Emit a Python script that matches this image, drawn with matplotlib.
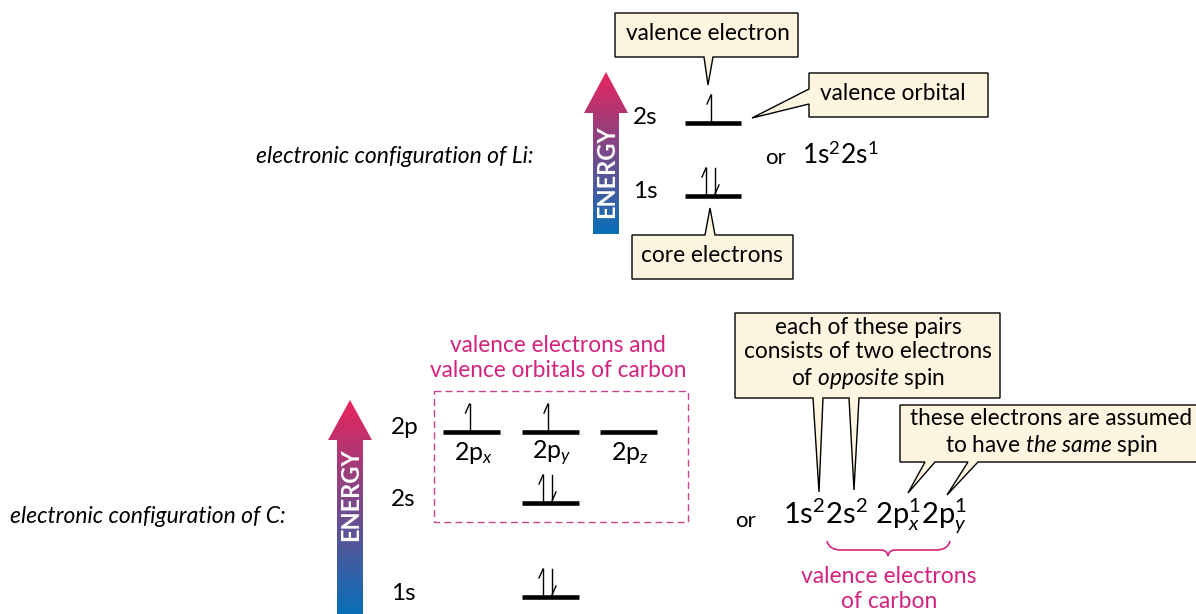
import numpy as np
import matplotlib.pyplot as plt
from matplotlib.patches import Polygon, PathPatch, Rectangle
from matplotlib.path import Path

plt.rcParams['font.family'] = ['Lato', 'DejaVu Sans']
plt.rcParams['mathtext.fontset'] = 'custom'
plt.rcParams['mathtext.rm'] = 'Lato'
plt.rcParams['mathtext.it'] = 'Lato:italic'
plt.rcParams['mathtext.bf'] = 'Lato:bold'

# data
li_orbitals = ['1s', '2s']
li_electrons = [2, 1]
li_config = r'1s$^2$2s$^1$'

c_levels = ['1s', '2s', '2p']
c_orbitals = ['1s', '2s', '2p$_x$', '2p$_y$', '2p$_z$']
c_electrons = [2, 2, 1, 1, 0]
c_config = r'1s$^2$2s$^2$ 2p$_x^1$2p$_y^1$'

MAGENTA = '#d3237f'
CREAM = '#fdf5e0'
NOTE = 16.3  # callout text size

fig = plt.figure(figsize=(11.96, 6.14), dpi=100)
ax = fig.add_axes([0, 0, 1, 1])
ax.set_xlim(0, 1196)
ax.set_ylim(614, 0)
ax.axis('off')


def energy_arrow(cx, tip, head_base, bottom, text_y, head_w=22, shaft_w=13, size=17):
    # gradient arrow, red on top, blue at the bottom
    pts = [(cx, tip), (cx + head_w, head_base), (cx + shaft_w, head_base),
           (cx + shaft_w, bottom), (cx - shaft_w, bottom), (cx - shaft_w, head_base),
           (cx - head_w, head_base)]
    poly = Polygon(pts, closed=True, facecolor='none', edgecolor='none')
    ax.add_patch(poly)
    top_c = np.array([232, 36, 92]) / 255
    bot_c = np.array([8, 112, 184]) / 255
    t = np.linspace(0, 1, 256)[:, None]
    grad = (top_c * (1 - t) + bot_c * t)[:, None, :]
    im = ax.imshow(grad, extent=(cx - head_w, cx + head_w, bottom, tip),
                   origin='upper', aspect='auto', interpolation='bilinear')
    im.set_clip_path(poly)
    ax.text(cx + 1, text_y, 'ENERGY', rotation=90, color='white', fontsize=size,
            fontweight='bold', ha='center', va='center')


def harpoon(x, y_base, up=True, length=26):
    top = y_base - length
    ax.plot([x, x], [y_base, top], color='black', lw=1.0)
    if up:
        ax.plot([x, x - 4], [top, top + 9], color='black', lw=1.0)
    else:
        ax.plot([x, x + 4], [y_base, y_base - 9], color='black', lw=1.0)


def orbital(cx, y, n, half=28):
    ax.plot([cx - half, cx + half], [y, y], color='black', lw=3.3, solid_capstyle='butt')
    if n == 1:
        harpoon(cx - 2, y - 2, up=True)
    elif n == 2:
        harpoon(cx - 7, y - 2, up=True)
        harpoon(cx + 2, y - 2, up=False)


def callout(x0, y0, x1, y1, pointers, side):
    # box with one or more triangular pointers drawn as a single outline
    if side == 'bottom':
        v = [(x0, y0), (x1, y0), (x1, y1)]
        for a, b, tx, ty in sorted(pointers, key=lambda p: -p[0]):
            v += [(b, y1), (tx, ty), (a, y1)]
        v += [(x0, y1)]
    elif side == 'top':
        v = [(x0, y0)]
        for a, b, tx, ty in sorted(pointers, key=lambda p: p[0]):
            v += [(a, y0), (tx, ty), (b, y0)]
        v += [(x1, y0), (x1, y1), (x0, y1)]
    else:
        v = [(x0, y0), (x1, y0), (x1, y1), (x0, y1)]
        for a, b, tx, ty in pointers:
            v += [(x0, b), (tx, ty), (x0, a)]
    ax.add_patch(Polygon(v, closed=True, facecolor=CREAM, edgecolor='black',
                         lw=1.0, joinstyle='miter'))


# ---------------- lithium ----------------
ax.text(256, 163, 'electronic configuration of Li:', fontsize=16.5, style='italic',
        ha='left', va='baseline')
energy_arrow(606, 72, 113, 234, text_y=172)

li_y = {'1s': 196, '2s': 123}
for orb, n in zip(li_orbitals, li_electrons):
    ax.text(633, li_y[orb] - 5, orb, fontsize=17.5, ha='left', va='center')
    orbital(713, li_y[orb], n)

callout(615, 13, 798, 57, [(704, 713, 708, 85)], 'bottom')
ax.text(708, 34, 'valence electron', fontsize=NOTE, ha='center', va='center')
callout(809, 73, 988, 117, [(89, 104, 752, 118)], 'left')
ax.text(893, 94, 'valence orbital', fontsize=NOTE, ha='center', va='center')
callout(632, 235, 793, 279, [(705, 715, 710, 208)], 'top')
ax.text(712, 256, 'core electrons', fontsize=NOTE, ha='center', va='center')

ax.text(765, 164, 'or', fontsize=16, ha='left', va='baseline')
ax.text(802, 164, li_config, fontsize=19, ha='left', va='baseline')

# ---------------- carbon ----------------
ax.text(10, 523, 'electronic configuration of C:', fontsize=16.5, style='italic',
        ha='left', va='baseline')
energy_arrow(350, 400, 440, 614, text_y=495)

c_level_y = {'1s': 597, '2s': 503, '2p': 432}
for lev in c_levels:
    ax.text(391, c_level_y[lev] - 4, lev, fontsize=17.5, ha='left', va='center')

c_pos = {'1s': (550, 597), '2s': (550, 503), '2p$_x$': (471.5, 432),
         '2p$_y$': (550, 432), '2p$_z$': (628.5, 432)}
for orb, n in zip(c_orbitals, c_electrons):
    cx, cy = c_pos[orb]
    orbital(cx, cy, n, half=28.5)
    if orb.startswith('2p'):
        ax.text(cx + 2, cy + 21, orb, fontsize=18, ha='center', va='center')

ax.add_patch(Rectangle((434, 391), 254, 131, facecolor='none', edgecolor='#c8448c',
                       lw=1.0, linestyle=(0, (5, 3))))
ax.text(558, 358, 'valence electrons and\nvalence orbitals of carbon', fontsize=NOTE,
        color=MAGENTA, ha='center', va='center', linespacing=1.25)

callout(735, 313, 1000, 398, [(813, 823, 819, 492), (849, 859, 854, 490)], 'bottom')
ax.text(868, 354, 'each of these pairs\nconsists of two electrons\n'
        r'of $\mathit{opposite}$ spin', fontsize=NOTE, ha='center', va='center',
        linespacing=1.2)
callout(900, 405, 1205, 462, [(925, 935, 908, 493), (968, 978, 947, 495)], 'bottom')
ax.text(1051, 433, 'these electrons are assumed\n'
        r'to have $\mathit{the\ same}$ spin', fontsize=NOTE, ha='center', va='center',
        linespacing=1.2)

ax.text(735, 527, 'or', fontsize=16, ha='left', va='baseline')
ax.text(783, 524, c_config, fontsize=21, ha='left', va='baseline')

# brace under the valence part
brace = Path([(827, 541), (829, 550), (841, 550), (881, 550), (887, 550), (888, 556),
              (889, 550), (895, 550), (936, 550), (948, 550), (950, 541)],
             [Path.MOVETO, Path.CURVE3, Path.CURVE3, Path.LINETO, Path.CURVE3, Path.CURVE3,
              Path.CURVE3, Path.CURVE3, Path.LINETO, Path.CURVE3, Path.CURVE3])
ax.add_patch(PathPatch(brace, facecolor='none', edgecolor=MAGENTA, lw=1.2))
ax.text(889, 589, 'valence electrons\nof carbon', fontsize=16.5, color=MAGENTA,
        ha='center', va='center', linespacing=1.2)

ax.set_xlim(0, 1196)
ax.set_ylim(614, 0)
fig.savefig('out.png', dpi=100)
